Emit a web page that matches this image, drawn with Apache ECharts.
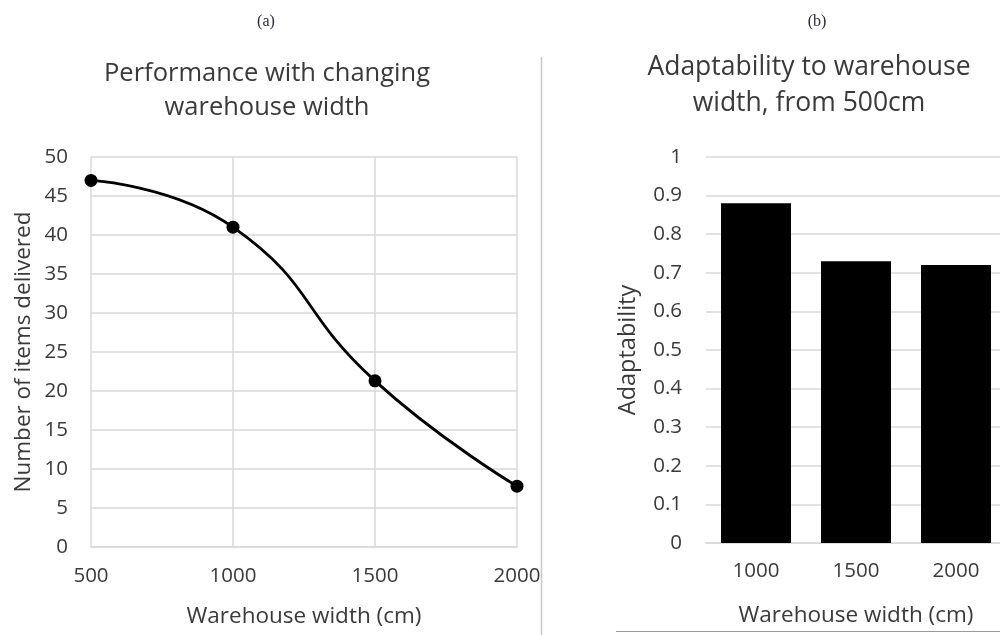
<!DOCTYPE html>
<html>
<head>
<meta charset="utf-8">
<script src="https://cdn.jsdelivr.net/npm/echarts@6/dist/echarts.min.js"></script>
<style>
  html, body { margin: 0; padding: 0; background: #ffffff; }
  #chart { width: 1000px; height: 635px; }
</style>
</head>
<body>
<div id="chart"></div>
<script>
// Panel (a): items delivered against warehouse width
const widths = [500, 1000, 1500, 2000];
const itemsDelivered = [47.0, 41.0, 21.3, 7.8];
const itemsTicks = { min: 0, max: 50, interval: 5 };
const widthTicks = { min: 500, max: 2000, interval: 500 };

// Panel (b): adaptability relative to the 500 cm warehouse
const adaptCategories = ['1000', '1500', '2000'];
const adaptability = [0.88, 0.73, 0.72];
const adaptTicks = { min: 0, max: 1, interval: 0.1 };

const FONT = 'Open Sans';
const TXT = '#3a3a3a';
const GRID = '#d9d9d9';
const TICK_SIZE = 20.5;
const NAME_SIZE = 22.5;

const chart = echarts.init(document.getElementById('chart'), null, { renderer: 'canvas' });

chart.setOption({
  backgroundColor: '#ffffff',
  animation: false,
  textStyle: { fontFamily: FONT, color: TXT },
  title: [
    { text: '(a)', left: 261, top: 9, textAlign: 'center',
      textStyle: { fontFamily: 'Liberation Serif', fontSize: 16, fontWeight: 'normal', color: '#2a2a3a' } },
    { text: '(b)', left: 812, top: 9, textAlign: 'center',
      textStyle: { fontFamily: 'Liberation Serif', fontSize: 16, fontWeight: 'normal', color: '#2a2a3a' } },
    { text: 'Performance with changing\nwarehouse width', left: 262, top: 52, textAlign: 'center',
      textStyle: { fontFamily: FONT, fontSize: 25.5, fontWeight: 'normal', color: TXT, lineHeight: 34 } },
    { text: 'Adaptability to warehouse\nwidth, from 500cm', left: 804, top: 44, textAlign: 'center',
      textStyle: { fontFamily: FONT, fontSize: 26.5, fontWeight: 'normal', color: TXT, lineHeight: 36 } }
  ],
  grid: [
    { left: 91, width: 426, top: 157, bottom: 88, outerBoundsMode: 'none' },
    { left: 706, width: 300, top: 157, bottom: 92, outerBoundsMode: 'none' }
  ],
  xAxis: [
    {
      gridIndex: 0, type: 'value',
      min: widthTicks.min, max: widthTicks.max, interval: widthTicks.interval,
      name: 'Warehouse width (cm)', nameLocation: 'middle', nameGap: 58,
      nameTextStyle: { fontFamily: FONT, fontSize: NAME_SIZE, color: TXT },
      axisLine: { show: true, lineStyle: { color: GRID, width: 1.5 } },
      axisTick: { show: false },
      axisLabel: { fontFamily: FONT, fontSize: TICK_SIZE, color: TXT, margin: 19,
        formatter: v => String(v) },
      splitLine: { show: true, lineStyle: { color: GRID, width: 1.5 } }
    },
    {
      gridIndex: 1, type: 'category', data: adaptCategories,
      name: 'Warehouse width (cm)', nameLocation: 'middle', nameGap: 61,
      nameTextStyle: { fontFamily: FONT, fontSize: NAME_SIZE, color: TXT },
      axisLine: { show: true, lineStyle: { color: GRID, width: 1.5 } },
      axisTick: { show: false },
      axisLabel: { fontFamily: FONT, fontSize: TICK_SIZE, color: TXT, margin: 18 },
      splitLine: { show: false }
    }
  ],
  yAxis: [
    {
      gridIndex: 0, type: 'value',
      min: itemsTicks.min, max: itemsTicks.max, interval: itemsTicks.interval,
      name: 'Number of items delivered', nameLocation: 'middle', nameGap: 56, nameRotate: 90,
      nameTextStyle: { fontFamily: FONT, fontSize: NAME_SIZE, color: TXT },
      axisLine: { show: false },
      axisTick: { show: false },
      axisLabel: { fontFamily: FONT, fontSize: TICK_SIZE, color: TXT, margin: 23 },
      splitLine: { show: true, lineStyle: { color: GRID, width: 1.5 } }
    },
    {
      gridIndex: 1, type: 'value',
      min: adaptTicks.min, max: adaptTicks.max, interval: adaptTicks.interval,
      name: 'Adaptability', nameLocation: 'middle', nameGap: 66, nameRotate: 90,
      nameTextStyle: { fontFamily: FONT, fontSize: NAME_SIZE + 1, color: TXT },
      axisLine: { show: false },
      axisTick: { show: false },
      axisLabel: { fontFamily: FONT, fontSize: TICK_SIZE, color: TXT, margin: 24,
        formatter: v => String(Math.round(v * 10) / 10) },
      splitLine: { show: true, lineStyle: { color: GRID, width: 1.5 } }
    }
  ],
  series: [
    {
      type: 'line', xAxisIndex: 0, yAxisIndex: 0,
      data: widths.map((w, i) => [w, itemsDelivered[i]]),
      smooth: 0.5,
      symbol: 'circle', symbolSize: 13,
      lineStyle: { color: '#000000', width: 2.8 },
      itemStyle: { color: '#000000' },
      z: 5
    },
    {
      type: 'bar', xAxisIndex: 1, yAxisIndex: 1,
      data: adaptability,
      barCategoryGap: '30%',
      itemStyle: { color: '#000000' }
    }
  ],
  graphic: [
    // divider between the two panels
    { type: 'line', shape: { x1: 541.5, y1: 57, x2: 541.5, y2: 635 },
      style: { stroke: '#c8c8c8', lineWidth: 1.5 } },
    // rule under panel (b)
    { type: 'line', shape: { x1: 616, y1: 631.5, x2: 1000, y2: 631.5 },
      style: { stroke: '#9a9a9a', lineWidth: 1 } }
  ]
});
</script>
</body>
</html>
